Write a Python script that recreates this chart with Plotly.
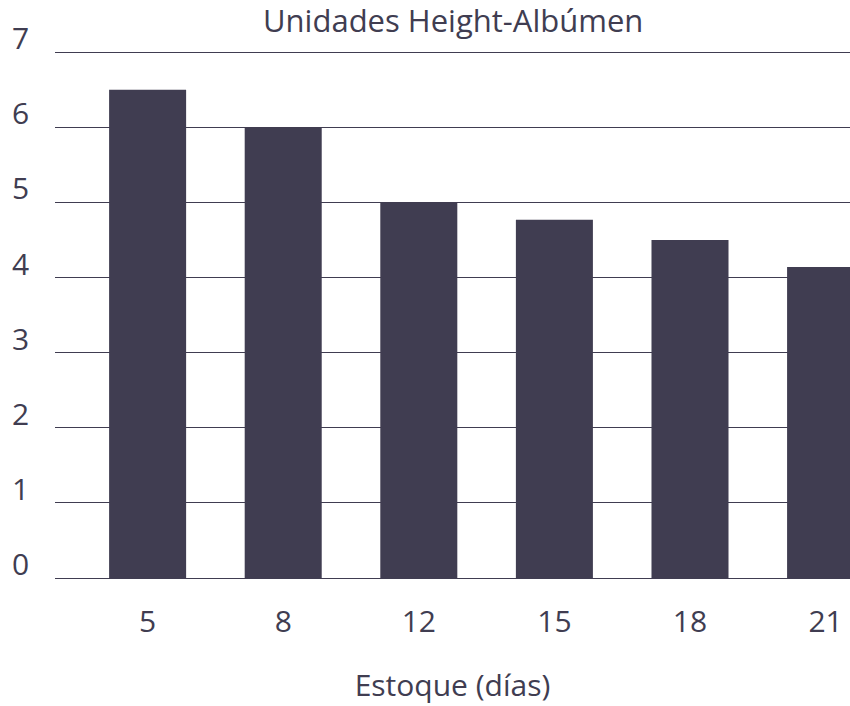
import plotly.graph_objects as go

categories = ["5", "8", "12", "15", "18", "21"]
values = [6.5, 6.0, 5.0, 4.77, 4.5, 4.14]
y_ticks = [0, 1, 2, 3, 4, 5, 6, 7]
title_text = "Unidades Height-Albúmen"
x_title = "Estoque (días)"

INK = "#403d51"
FONT = "Open Sans"

fig = go.Figure()
fig.add_trace(go.Bar(x=list(range(len(categories))), y=values, width=0.568,
                     marker=dict(color=INK, line=dict(width=0))))

annotations = []
for v in y_ticks:
    annotations.append(dict(x=0, xref="paper", y=v, yref="y", text=str(v),
                            xanchor="right", yanchor="bottom", xshift=-24, yshift=-8,
                            showarrow=False, font=dict(family=FONT, size=30, color=INK)))
annotations.append(dict(x=0.5, xref="paper", y=1, yref="paper", text=title_text,
                        xanchor="center", yanchor="bottom", yshift=7, showarrow=False,
                        font=dict(family=FONT, size=31, color=INK)))

fig.update_layout(
    width=850, height=706,
    margin=dict(l=55, r=0, t=50, b=128),
    paper_bgcolor="white", plot_bgcolor="white",
    showlegend=False,
    font=dict(family=FONT, size=30, color=INK),
    annotations=annotations,
    xaxis=dict(range=[-0.683, 5.18], tickmode="array",
               tickvals=list(range(len(categories))), ticktext=categories,
               showgrid=False, zeroline=False, showline=False, ticks="",
               ticklabelstandoff=23,
               tickfont=dict(family=FONT, size=30, color=INK),
               title=dict(text=x_title, standoff=34,
                          font=dict(family=FONT, size=30, color=INK))),
    yaxis=dict(range=[0, 7.03], tickvals=y_ticks, showticklabels=False,
               showgrid=True, gridcolor=INK, gridwidth=1,
               zeroline=True, zerolinecolor=INK, zerolinewidth=1,
               showline=False, ticks=""),
)

fig.write_html("out.html", config={"displayModeBar": False},
               post_script="document.body.style.margin='0';document.body.style.overflow='hidden';")
